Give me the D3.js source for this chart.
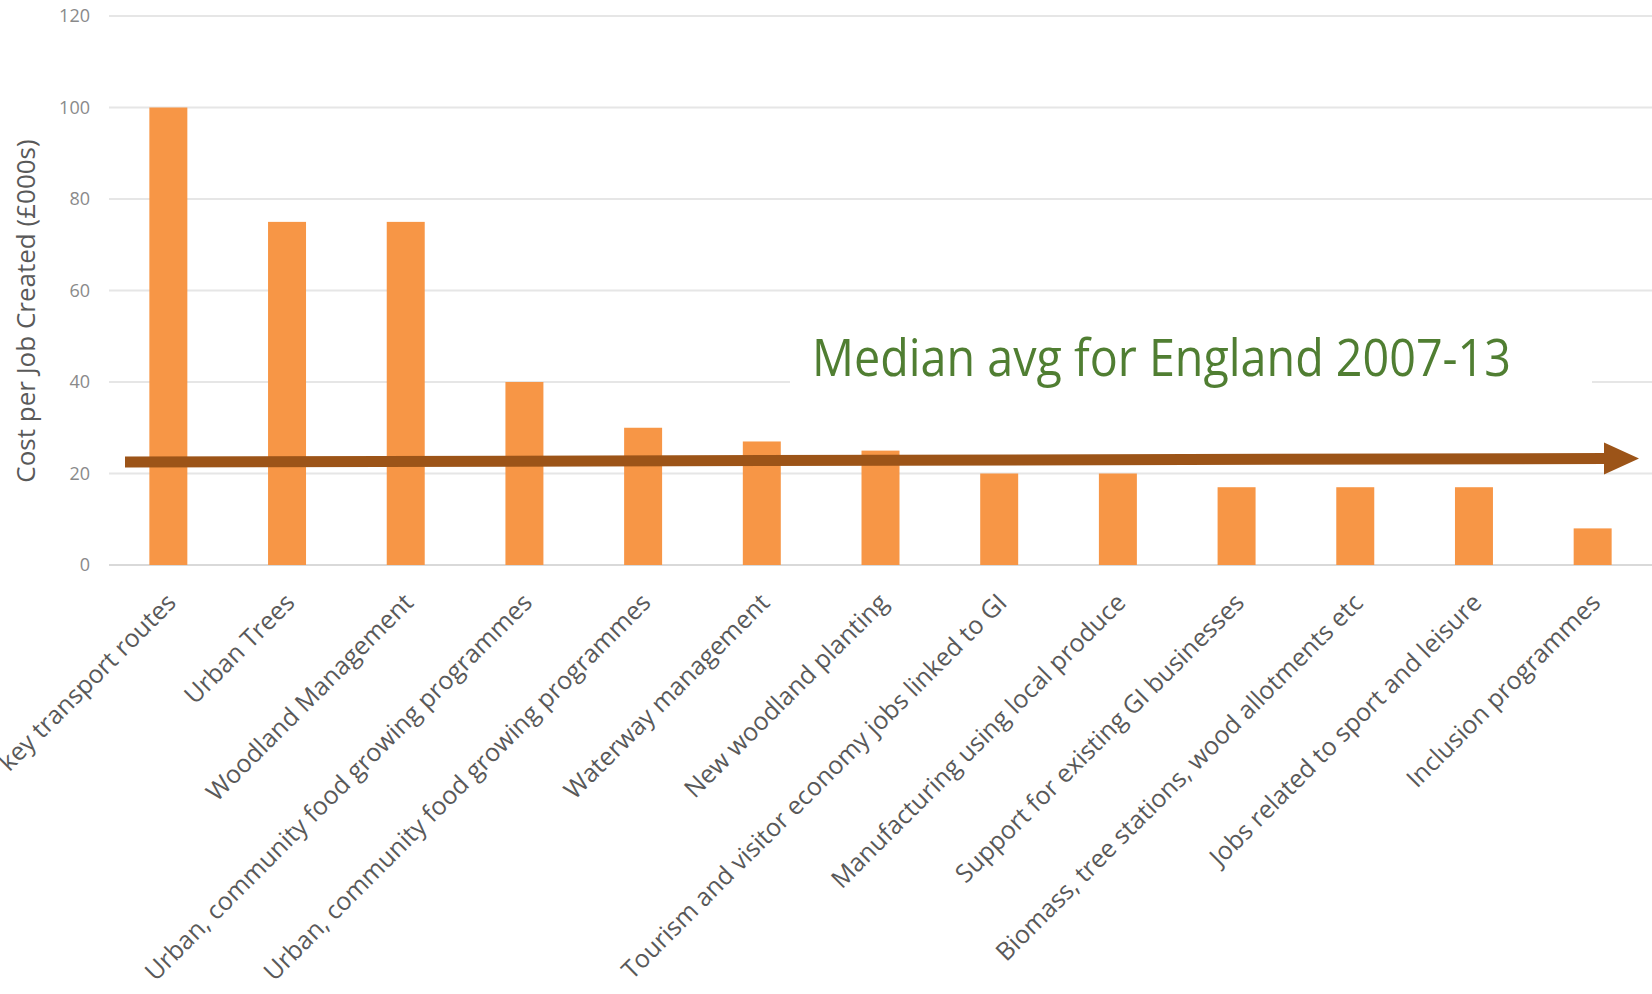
<!DOCTYPE html>
<html>
<head>
<meta charset="utf-8">
<script src="https://cdn.jsdelivr.net/npm/d3@7"></script>
<style>
  body { margin:0; background:#fff; }
  svg { display:block; font-family:'Open Sans', sans-serif; }
</style>
</head>
<body>
<svg id="chart" width="1652" height="994"></svg>
<script>
// data
const categories = [
  "key transport routes",
  "Urban Trees",
  "Woodland Management",
  "Urban, community food growing programmes",
  "Urban, community food growing programmes ",
  "Waterway management",
  "New woodland planting",
  "Tourism and visitor economy jobs linked to GI",
  "Manufacturing using local produce",
  "Support for existing GI businesses",
  "Biomass, tree stations, wood allotments etc",
  "Jobs related to sport and leisure",
  "Inclusion programmes"
];
const costs = [100, 75, 75, 40, 30, 27, 25, 20, 20, 17, 17, 17, 8];
const yTicks = [0, 20, 40, 60, 80, 100, 120];
const medianLabel = "Median avg for England 2007-13";
const medianFrom = 22.5;   // arrow level at left end
const medianTo = 23.3;     // arrow level at tip
const yTitle = "Cost per Job Created (£000s)";

// layout
const W = 1652, H = 994;
const plot = { left: 109, right: 1652, top: 16, bottom: 565 };

const svg = d3.select('#chart');

const x = d3.scaleBand()
  .domain(d3.range(categories.length))
  .range([plot.left, plot.right])
  .paddingInner(0.68)
  .paddingOuter(0.34);

const y = d3.scaleLinear()
  .domain([0, 120])
  .range([plot.bottom, plot.top]);

// gridlines
svg.append('g')
  .selectAll('line')
  .data(yTicks)
  .join('line')
  .attr('x1', plot.left)
  .attr('x2', plot.right)
  .attr('y1', d => y(d))
  .attr('y2', d => y(d))
  .attr('stroke', d => d === 0 ? '#d9d9d9' : '#e6e6e6')
  .attr('stroke-width', 2);

// y tick labels
svg.append('g')
  .selectAll('text')
  .data(yTicks)
  .join('text')
  .attr('x', plot.left - 19)
  .attr('y', d => y(d))
  .attr('dy', '0.35em')
  .attr('text-anchor', 'end')
  .attr('font-size', 18)
  .attr('fill', '#8a8a8a')
  .text(d => d);

// y axis title
svg.append('text')
  .attr('transform', `translate(26, 311) rotate(-90)`)
  .attr('text-anchor', 'middle')
  .attr('dy', '0.35em')
  .attr('font-size', 26)
  .attr('fill', '#595959')
  .text(yTitle);

// bars
svg.append('g')
  .selectAll('rect')
  .data(costs)
  .join('rect')
  .attr('x', (d, i) => x(i))
  .attr('y', d => y(d))
  .attr('width', x.bandwidth())
  .attr('height', d => y(0) - y(d))
  .attr('fill', '#f79646');

// category labels, rotated (first one runs off the left edge as in the original)
svg.append('g')
  .selectAll('text')
  .data(categories)
  .join('text')
  .attr('transform', (d, i) => `translate(${x(i) + x.bandwidth() / 2 + 3}, ${plot.bottom + 33}) rotate(-45)`)
  .attr('text-anchor', 'end')
  .attr('dy', '0.35em')
  .attr('font-size', 25)
  .attr('fill', '#595959')
  .text(d => d.trim());

// white box behind the annotation (cuts the 40 gridline)
svg.append('rect')
  .attr('x', 790)
  .attr('y', 316)
  .attr('width', 802)
  .attr('height', 70)
  .attr('fill', '#fff');

svg.append('text')
  .attr('x', 812)
  .attr('y', 376)
  .attr('font-size', 51)
  .attr('textLength', 699)
  .attr('lengthAdjust', 'spacingAndGlyphs')
  .attr('fill', '#507e32')
  .text(medianLabel);

// median arrow
const arrowColor = '#9c5418';
const ax0 = plot.left + 16;
const axTip = plot.right - 13;
const axBase = axTip - 35;
const ay0 = y(medianFrom);
const ayTip = y(medianTo);
const ayBase = ay0 + (ayTip - ay0) * (axBase - ax0) / (axTip - ax0);

svg.append('line')
  .attr('x1', ax0)
  .attr('y1', ay0)
  .attr('x2', axBase + 1)
  .attr('y2', ayBase)
  .attr('stroke', arrowColor)
  .attr('stroke-width', 11);

svg.append('path')
  .attr('d', `M${axBase},${ayBase - 16} L${axTip},${ayTip} L${axBase},${ayBase + 16} Z`)
  .attr('fill', arrowColor);
</script>
</body>
</html>
